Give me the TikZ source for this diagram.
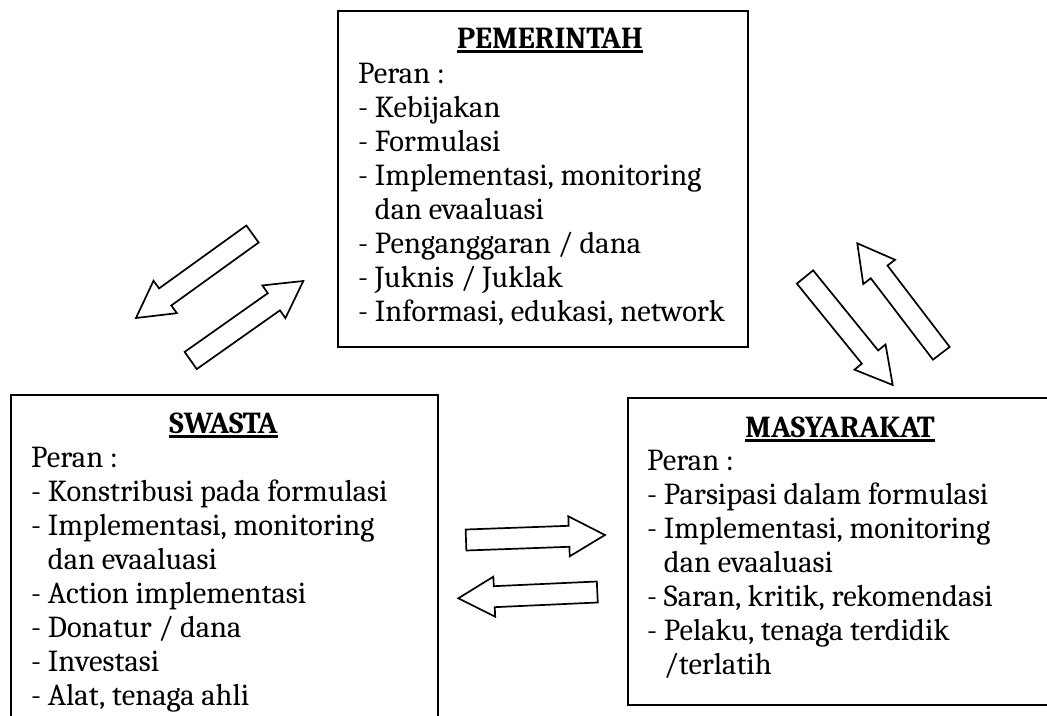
\documentclass[tikz,border=0pt]{standalone}
\usepackage{fontspec}
\IfFontExistsTF{Caladea}{\setmainfont{Caladea}}{\setmainfont{DejaVu Serif}}
\usetikzlibrary{calc}
\newcommand\headul[1]{\setbox0\hbox{\bfseries #1}\rlap{\rule[-4.5pt]{\wd0}{2.2pt}}\box0}
\newcommand\roles[1]{\begin{tabular}[t]{@{}l@{}}#1\end{tabular}}
\newcommand\blockarrow[2]{%
  \coordinate (#2-b) at ($(#2)!36pt!(#1)$);
  \draw[blockarr] ($(#1)!10.5pt!90:(#2)$) -- ($(#2-b)!10.5pt!90:(#2)$) -- ($(#2-b)!20pt!90:(#2)$) -- (#2)
     -- ($(#2-b)!20pt!-90:(#2)$) -- ($(#2-b)!10.5pt!-90:(#2)$) -- ($(#1)!10.5pt!-90:(#2)$) -- cycle;}
\begin{document}
\begin{tikzpicture}[x=1pt,y=-1pt,
  box/.style={draw, line width=1.8pt, fill=white, inner sep=0pt, anchor=north west},
  head/.style={anchor=base, inner sep=0pt, font=\fontsize{30.5}{34}\selectfont},
  body/.style={anchor=base west, inner sep=0pt, font=\fontsize{30.5}{34}\selectfont},
  blockarr/.style={draw, line width=1.7pt, fill=white, line join=miter}]
\useasboundingbox (0,0) rectangle (1047,715);
\clip (0,0) rectangle (1047,715);
% boxes
\node[box, minimum width=410pt, minimum height=336pt] (pem) at (337,10) {};
\node[box, minimum width=427pt, minimum height=340pt] (swa) at (10,394) {};
\node[box, minimum width=440pt, minimum height=307pt] (mas) at (627,397) {};
% PEMERINTAH
\node[head] (pemh) at (550,48) {\headul{PEMERINTAH}};
\node[body] (pemt) at (358,83) {\roles{Peran :\\- Kebijakan\\- Formulasi\\- Implementasi, monitoring\\\phantom{- }dan evaaluasi\\- Penganggaran / dana\\- Juknis / Juklak\\- Informasi, edukasi, network}};
% SWASTA
\node[head] (swah) at (223.5,433) {\headul{SWASTA}};
\node[body] (swat) at (31,467) {\roles{Peran :\\- Konstribusi pada formulasi\\- Implementasi, monitoring\\\phantom{- }dan evaaluasi\\- Action implementasi\\- Donatur / dana\\- Investasi\\- Alat, tenaga ahli}};
% MASYARAKAT
\node[head] (mash) at (840,437) {\headul{MASYARAKAT}};
\node[body] (mast) at (647,470) {\roles{Peran :\\- Parsipasi dalam formulasi\\- Implementasi, monitoring\\\phantom{- }dan evaaluasi\\- Saran, kritik, rekomendasi\\- Pelaku, tenaga terdidik\\\phantom{- }/terlatih}};
% arrows
\coordinate (a1t) at (252.5,234);   \coordinate (a1h) at (136,318);
\coordinate (a2t) at (190.7,360.5); \coordinate (a2h) at (303.3,281);
\coordinate (a3t) at (805,277);     \coordinate (a3h) at (892.7,385);
\coordinate (a4t) at (941.3,353.3); \coordinate (a4h) at (857.3,243.3);
\coordinate (a5t) at (466,540);     \coordinate (a5h) at (605,535);
\coordinate (a6t) at (597.3,592);   \coordinate (a6h) at (458.3,598.3);
\blockarrow{a1t}{a1h}
\blockarrow{a2t}{a2h}
\blockarrow{a3t}{a3h}
\blockarrow{a4t}{a4h}
\blockarrow{a5t}{a5h}
\blockarrow{a6t}{a6h}
\end{tikzpicture}
\end{document}
